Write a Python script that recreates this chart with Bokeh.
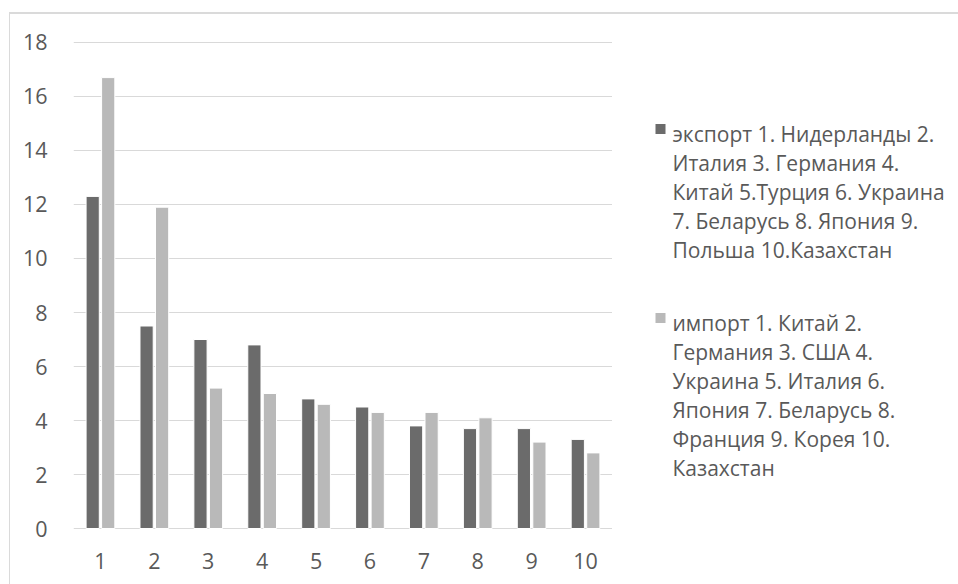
from bokeh.plotting import figure
from bokeh.layouts import row
from bokeh.models import Range1d, FixedTicker
from bokeh.core.properties import value
from bokeh.embed import file_html
from bokeh.resources import INLINE

# Top-10 trading partners, share of trade (%)
ranks = [1, 2, 3, 4, 5, 6, 7, 8, 9, 10]
export_vals = [12.3, 7.5, 7.0, 6.8, 4.8, 4.5, 3.8, 3.7, 3.7, 3.3]
import_vals = [16.7, 11.9, 5.2, 5.0, 4.6, 4.3, 4.3, 4.1, 3.2, 2.8]
y_ticks = [0, 2, 4, 6, 8, 10, 12, 14, 16, 18]

export_lines = [
    "экспорт 1. Нидерланды 2.",
    "Италия 3. Германия 4.",
    "Китай 5.Турция 6. Украина",
    "7. Беларусь 8. Япония 9.",
    "Польша 10.Казахстан",
]
import_lines = [
    "импорт 1. Китай 2.",
    "Германия 3. США 4.",
    "Украина 5. Италия 6.",
    "Япония 7. Беларусь 8.",
    "Франция 9. Корея 10.",
    "Казахстан",
]

DARK = "#6b6b6b"
LIGHT = "#b9b9b9"
TEXT = "#595959"
GRID = "#d9d9d9"
FONT = "Open Sans"

PH = 570          # height of both panels
PW = 602          # bar panel width
LW = 346          # legend panel width
TOP_B, BOT_B = 26, 54

# ---- bar chart panel ----
pad = 0.074       # keeps the 0 and 18 grid lines inside the frame
p = figure(width=PW, height=PH, output_backend="svg", toolbar_location=None,
           x_range=Range1d(0.5, 10.5), y_range=Range1d(-pad, 18 + pad),
           min_border_left=63, min_border_right=0,
           min_border_top=TOP_B, min_border_bottom=BOT_B)
p.outline_line_color = None

off = 0.144
bw = 0.245
p.vbar(x=[r - off for r in ranks], top=export_vals, width=bw,
       fill_color=DARK, line_color="white", line_width=1)
p.vbar(x=[r + off for r in ranks], top=import_vals, width=bw,
       fill_color=LIGHT, line_color="white", line_width=1)

p.xaxis.ticker = FixedTicker(ticks=ranks)
p.yaxis.ticker = FixedTicker(ticks=y_ticks)
for ax in (p.xaxis[0], p.yaxis[0]):
    ax.axis_line_color = None
    ax.major_tick_line_color = None
    ax.minor_tick_line_color = None
    ax.major_label_text_font = FONT
    ax.major_label_text_font_size = "21.5px"
    ax.major_label_text_color = TEXT
p.xaxis.major_label_standoff = 16
p.yaxis.major_label_standoff = 20
p.xgrid.grid_line_color = None
p.ygrid.grid_line_color = GRID
p.ygrid.grid_line_width = 1
p.ygrid.level = "underlay"

# ---- legend panel: its frame lines up with the bar frame, so map it to page pixels ----
frame_top = 14 + TOP_B
frame_bot = 14 + PH - BOT_B
q = figure(width=LW, height=PH, output_backend="svg", toolbar_location=None,
           x_range=Range1d(612, 612 + LW), y_range=Range1d(frame_bot, frame_top),
           min_border=0, x_axis_type=None, y_axis_type=None)
q.outline_line_color = None
q.xgrid.grid_line_color = None
q.ygrid.grid_line_color = None

line_step = 29
def legend_block(lines, color, base):
    q.quad(left=[655], right=[665], top=[base - 10], bottom=[base],
           fill_color=color, line_color=None)
    q.text(x=[672] * len(lines), y=[base + line_step * i for i in range(len(lines))],
           text=lines, text_font=value(FONT), text_font_size="21px",
           text_color=TEXT, text_baseline="alphabetic", text_align="left")

legend_block(export_lines, DARK, 133.5)
legend_block(import_lines, LIGHT, 322.5)

layout = row(p, q, margin=(12, 0, 0, 9),
             styles={"border-top": "2px solid #dadada",
                     "border-left": "1px solid #dadada"})

open("out.html", "w").write(file_html(layout, INLINE))
